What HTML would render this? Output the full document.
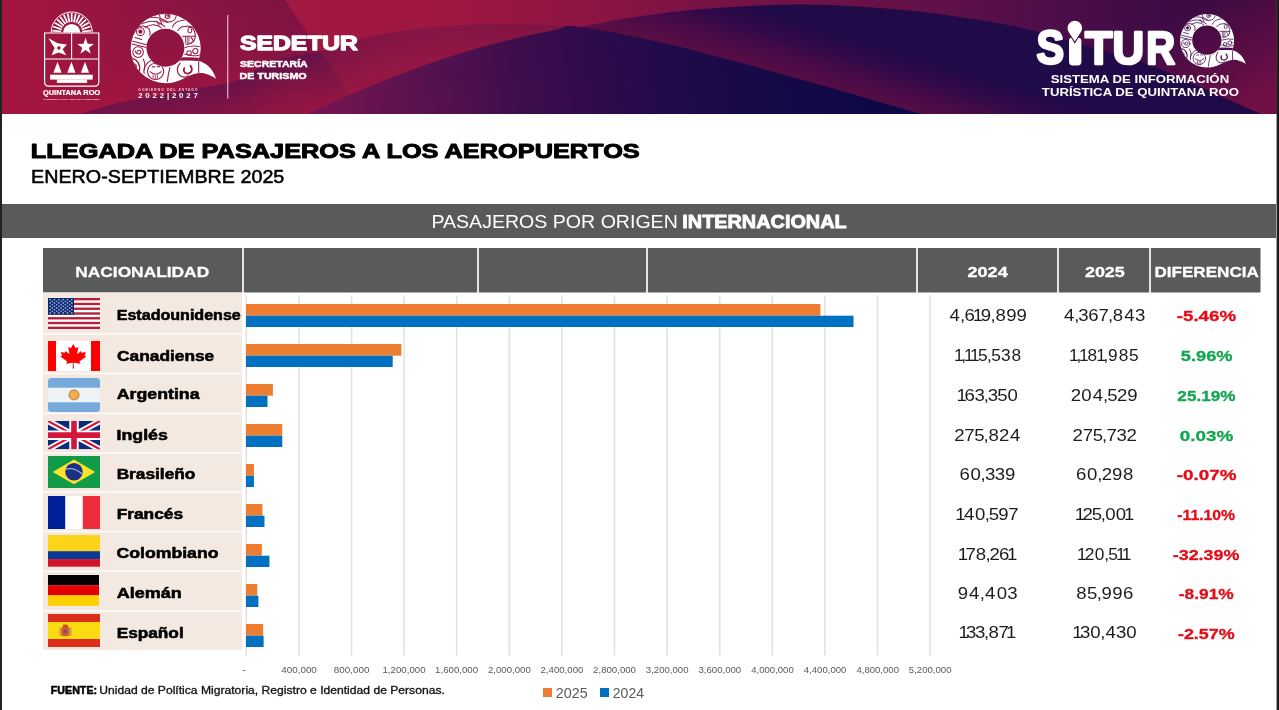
<!DOCTYPE html>
<html lang="es">
<head>
<meta charset="utf-8">
<title>Llegada de pasajeros a los aeropuertos</title>
<style>
html,body{margin:0;padding:0;background:#fff;}
body{width:1279px;height:710px;overflow:hidden;font-family:"Liberation Sans", sans-serif;}
svg{display:block;}
text{font-family:"Liberation Sans", sans-serif;white-space:pre;}
</style>
</head>
<body>
<svg width="1279" height="710" viewBox="0 0 1279 710">

<defs>
<linearGradient id="gBase" x1="0" y1="0" x2="400" y2="0" gradientUnits="userSpaceOnUse"><stop offset="0" stop-color="#a3163f"/><stop offset="1" stop-color="#a21741"/></linearGradient>
<linearGradient id="gRight" x1="285" y1="0" x2="1279" y2="0" gradientUnits="userSpaceOnUse"><stop offset="0" stop-color="#a21841"/><stop offset="0.166" stop-color="#9e1741"/><stop offset="0.3169" stop-color="#8c1443"/><stop offset="0.4175" stop-color="#7a1245"/><stop offset="0.5684" stop-color="#6a1147"/><stop offset="0.669" stop-color="#5f1048"/><stop offset="0.7696" stop-color="#4d0e49"/><stop offset="0.8702" stop-color="#400b46"/><stop offset="1" stop-color="#36083e"/></linearGradient>
<linearGradient id="gBandX" x1="20" y1="0" x2="300" y2="0" gradientUnits="userSpaceOnUse"><stop offset="0" stop-color="#4a0f4a" stop-opacity="0"/><stop offset="0.45" stop-color="#4a0f4a" stop-opacity="0.22"/><stop offset="1" stop-color="#4a0f4a" stop-opacity="0.42"/></linearGradient>
<linearGradient id="gBandY" x1="0" y1="0" x2="0" y2="114" gradientUnits="userSpaceOnUse"><stop offset="0" stop-color="#fff" stop-opacity="1"/><stop offset="0.5" stop-color="#fff" stop-opacity="0.75"/><stop offset="0.85" stop-color="#fff" stop-opacity="0.25"/><stop offset="1" stop-color="#fff" stop-opacity="0.2"/></linearGradient>
<mask id="mBand" maskUnits="userSpaceOnUse" x="0" y="0" width="1279" height="114"><rect x="0" y="0" width="1279" height="114" fill="url(#gBandY)"/></mask>
<linearGradient id="gCorner" x1="1170" y1="20" x2="1235" y2="118" gradientUnits="userSpaceOnUse"><stop offset="0" stop-color="#8e144a" stop-opacity="0"/><stop offset="1" stop-color="#8e144a" stop-opacity="0.66"/></linearGradient>
<linearGradient id="gOver" x1="330" y1="135" x2="880" y2="40" gradientUnits="userSpaceOnUse"><stop offset="0" stop-color="#741550"/><stop offset="0.2" stop-color="#55114f"/><stop offset="0.4" stop-color="#380c4c"/><stop offset="0.6" stop-color="#230a4a"/><stop offset="0.8" stop-color="#150946"/><stop offset="1" stop-color="#0c0945"/></linearGradient>
<linearGradient id="gArch2" x1="672" y1="43" x2="691" y2="-20" gradientUnits="userSpaceOnUse"><stop offset="0" stop-color="#580d45"/><stop offset="0.3" stop-color="#480b47"/><stop offset="0.6" stop-color="#300949"/><stop offset="0.85" stop-color="#220a48"/><stop offset="1" stop-color="#200a48"/></linearGradient>
<linearGradient id="gArch1" x1="80" y1="0" x2="580" y2="0" gradientUnits="userSpaceOnUse"><stop offset="0" stop-color="#3a0f50" stop-opacity="1"/><stop offset="0.36" stop-color="#3a0f50" stop-opacity="1"/><stop offset="0.5" stop-color="#3a0f50" stop-opacity="0.75"/><stop offset="0.74" stop-color="#3a0f50" stop-opacity="0.5"/><stop offset="1" stop-color="#3a0f50" stop-opacity="0.45"/></linearGradient>
<clipPath id="banner"><rect x="2" y="0" width="1274.6" height="114"/></clipPath>
</defs>
<rect x="0" y="0" width="1279" height="710" fill="#ffffff"/>
<g clip-path="url(#banner)">
<rect x="2" y="0" width="1275" height="114" fill="url(#gBase)"/>
<path d="M0,0 H285 L363,114 H0 Z" fill="url(#gBandX)" mask="url(#mBand)"/>
<path d="M285,0 H1279 V114 H363 Z" fill="url(#gRight)"/>
<path d="M1100,0 H1279 V114 H1100 Z" fill="url(#gCorner)"/>
<clipPath id="cA1"><path d="M0,0 H580 V114 H0 Z"/></clipPath>
<g clip-path="url(#cA1)">
<path fill-rule="evenodd" fill="url(#gArch1)" fill-opacity="0.46" d="M20.0,132.0 C30.0,129.0 64.0,118.8 80.0,114.0 C96.0,109.2 100.2,107.1 116.0,103.5 C131.8,99.9 155.3,96.2 175.0,92.5 C194.7,88.8 220.5,85.2 234.0,81.5 C247.5,77.8 249.2,73.5 256.0,70.0 C262.8,66.5 267.7,63.0 275.0,60.5 C282.3,58.0 290.8,56.9 300.0,55.0 C309.2,53.1 318.5,52.2 330.0,49.2 C341.5,46.2 354.0,40.5 369.0,37.0 C384.0,33.5 401.5,30.6 420.0,28.5 C438.5,26.4 461.7,25.2 480.0,24.5 C498.3,23.8 513.3,24.1 530.0,24.5 C546.7,24.9 571.7,26.6 580.0,27.0 L580.0,300 L20.0,300 Z M21.4,139.0 C31.4,136.0 65.4,125.8 81.4,121.0 C97.4,116.2 101.6,114.1 117.4,110.5 C133.2,106.9 156.7,103.2 176.4,99.5 C196.1,95.8 221.9,92.2 235.4,88.5 C248.9,84.8 250.6,80.5 257.4,77.0 C264.2,73.5 269.1,70.0 276.4,67.5 C283.7,65.0 292.2,63.9 301.4,62.0 C310.6,60.1 319.9,59.2 331.4,56.2 C342.9,53.2 355.4,47.5 370.4,44.0 C385.4,40.5 402.9,37.6 421.4,35.5 C439.9,33.4 463.1,32.2 481.4,31.5 C499.7,30.8 514.7,31.1 531.4,31.5 C548.1,31.9 573.1,33.6 581.4,34.0 L581.4,300 L21.4,300 Z"/>
<path fill-rule="evenodd" fill="url(#gArch1)" fill-opacity="0.41" d="M21.4,139.0 C31.4,136.0 65.4,125.8 81.4,121.0 C97.4,116.2 101.6,114.1 117.4,110.5 C133.2,106.9 156.7,103.2 176.4,99.5 C196.1,95.8 221.9,92.2 235.4,88.5 C248.9,84.8 250.6,80.5 257.4,77.0 C264.2,73.5 269.1,70.0 276.4,67.5 C283.7,65.0 292.2,63.9 301.4,62.0 C310.6,60.1 319.9,59.2 331.4,56.2 C342.9,53.2 355.4,47.5 370.4,44.0 C385.4,40.5 402.9,37.6 421.4,35.5 C439.9,33.4 463.1,32.2 481.4,31.5 C499.7,30.8 514.7,31.1 531.4,31.5 C548.1,31.9 573.1,33.6 581.4,34.0 L581.4,300 L21.4,300 Z M22.8,146.0 C32.8,143.0 66.8,132.8 82.8,128.0 C98.8,123.2 103.0,121.1 118.8,117.5 C134.6,113.9 158.1,110.2 177.8,106.5 C197.5,102.8 223.3,99.2 236.8,95.5 C250.3,91.8 252.0,87.5 258.8,84.0 C265.6,80.5 270.5,77.0 277.8,74.5 C285.1,72.0 293.6,70.9 302.8,69.0 C312.0,67.1 321.3,66.2 332.8,63.2 C344.3,60.2 356.8,54.5 371.8,51.0 C386.8,47.5 404.3,44.6 422.8,42.5 C441.3,40.4 464.5,39.2 482.8,38.5 C501.1,37.8 516.1,38.1 532.8,38.5 C549.5,38.9 574.5,40.6 582.8,41.0 L582.8,300 L22.8,300 Z"/>
<path fill-rule="evenodd" fill="url(#gArch1)" fill-opacity="0.35" d="M22.8,146.0 C32.8,143.0 66.8,132.8 82.8,128.0 C98.8,123.2 103.0,121.1 118.8,117.5 C134.6,113.9 158.1,110.2 177.8,106.5 C197.5,102.8 223.3,99.2 236.8,95.5 C250.3,91.8 252.0,87.5 258.8,84.0 C265.6,80.5 270.5,77.0 277.8,74.5 C285.1,72.0 293.6,70.9 302.8,69.0 C312.0,67.1 321.3,66.2 332.8,63.2 C344.3,60.2 356.8,54.5 371.8,51.0 C386.8,47.5 404.3,44.6 422.8,42.5 C441.3,40.4 464.5,39.2 482.8,38.5 C501.1,37.8 516.1,38.1 532.8,38.5 C549.5,38.9 574.5,40.6 582.8,41.0 L582.8,300 L22.8,300 Z M24.2,153.0 C34.2,150.0 68.2,139.8 84.2,135.0 C100.2,130.2 104.4,128.1 120.2,124.5 C136.0,120.9 159.5,117.2 179.2,113.5 C198.9,109.8 224.7,106.2 238.2,102.5 C251.7,98.8 253.4,94.5 260.2,91.0 C267.0,87.5 271.9,84.0 279.2,81.5 C286.5,79.0 295.0,77.9 304.2,76.0 C313.4,74.1 322.7,73.2 334.2,70.2 C345.7,67.2 358.2,61.5 373.2,58.0 C388.2,54.5 405.7,51.6 424.2,49.5 C442.7,47.4 465.9,46.2 484.2,45.5 C502.5,44.8 517.5,45.1 534.2,45.5 C550.9,45.9 575.9,47.6 584.2,48.0 L584.2,300 L24.2,300 Z"/>
<path fill-rule="evenodd" fill="url(#gArch1)" fill-opacity="0.29" d="M24.2,153.0 C34.2,150.0 68.2,139.8 84.2,135.0 C100.2,130.2 104.4,128.1 120.2,124.5 C136.0,120.9 159.5,117.2 179.2,113.5 C198.9,109.8 224.7,106.2 238.2,102.5 C251.7,98.8 253.4,94.5 260.2,91.0 C267.0,87.5 271.9,84.0 279.2,81.5 C286.5,79.0 295.0,77.9 304.2,76.0 C313.4,74.1 322.7,73.2 334.2,70.2 C345.7,67.2 358.2,61.5 373.2,58.0 C388.2,54.5 405.7,51.6 424.2,49.5 C442.7,47.4 465.9,46.2 484.2,45.5 C502.5,44.8 517.5,45.1 534.2,45.5 C550.9,45.9 575.9,47.6 584.2,48.0 L584.2,300 L24.2,300 Z M25.6,160.0 C35.6,157.0 69.6,146.8 85.6,142.0 C101.6,137.2 105.8,135.1 121.6,131.5 C137.4,127.9 160.9,124.2 180.6,120.5 C200.3,116.8 226.1,113.2 239.6,109.5 C253.1,105.8 254.8,101.5 261.6,98.0 C268.4,94.5 273.3,91.0 280.6,88.5 C287.9,86.0 296.4,84.9 305.6,83.0 C314.8,81.1 324.1,80.2 335.6,77.2 C347.1,74.2 359.6,68.5 374.6,65.0 C389.6,61.5 407.1,58.6 425.6,56.5 C444.1,54.4 467.3,53.2 485.6,52.5 C503.9,51.8 518.9,52.1 535.6,52.5 C552.3,52.9 577.3,54.6 585.6,55.0 L585.6,300 L25.6,300 Z"/>
<path fill-rule="evenodd" fill="url(#gArch1)" fill-opacity="0.23" d="M25.6,160.0 C35.6,157.0 69.6,146.8 85.6,142.0 C101.6,137.2 105.8,135.1 121.6,131.5 C137.4,127.9 160.9,124.2 180.6,120.5 C200.3,116.8 226.1,113.2 239.6,109.5 C253.1,105.8 254.8,101.5 261.6,98.0 C268.4,94.5 273.3,91.0 280.6,88.5 C287.9,86.0 296.4,84.9 305.6,83.0 C314.8,81.1 324.1,80.2 335.6,77.2 C347.1,74.2 359.6,68.5 374.6,65.0 C389.6,61.5 407.1,58.6 425.6,56.5 C444.1,54.4 467.3,53.2 485.6,52.5 C503.9,51.8 518.9,52.1 535.6,52.5 C552.3,52.9 577.3,54.6 585.6,55.0 L585.6,300 L25.6,300 Z M27.2,168.0 C37.2,165.0 71.2,154.8 87.2,150.0 C103.2,145.2 107.4,143.1 123.2,139.5 C139.0,135.9 162.5,132.2 182.2,128.5 C201.9,124.8 227.7,121.2 241.2,117.5 C254.7,113.8 256.4,109.5 263.2,106.0 C270.0,102.5 274.9,99.0 282.2,96.5 C289.5,94.0 298.0,92.9 307.2,91.0 C316.4,89.1 325.7,88.2 337.2,85.2 C348.7,82.2 361.2,76.5 376.2,73.0 C391.2,69.5 408.7,66.6 427.2,64.5 C445.7,62.4 468.9,61.2 487.2,60.5 C505.5,59.8 520.5,60.1 537.2,60.5 C553.9,60.9 578.9,62.6 587.2,63.0 L587.2,300 L27.2,300 Z"/>
<path fill-rule="evenodd" fill="url(#gArch1)" fill-opacity="0.17" d="M27.2,168.0 C37.2,165.0 71.2,154.8 87.2,150.0 C103.2,145.2 107.4,143.1 123.2,139.5 C139.0,135.9 162.5,132.2 182.2,128.5 C201.9,124.8 227.7,121.2 241.2,117.5 C254.7,113.8 256.4,109.5 263.2,106.0 C270.0,102.5 274.9,99.0 282.2,96.5 C289.5,94.0 298.0,92.9 307.2,91.0 C316.4,89.1 325.7,88.2 337.2,85.2 C348.7,82.2 361.2,76.5 376.2,73.0 C391.2,69.5 408.7,66.6 427.2,64.5 C445.7,62.4 468.9,61.2 487.2,60.5 C505.5,59.8 520.5,60.1 537.2,60.5 C553.9,60.9 578.9,62.6 587.2,63.0 L587.2,300 L27.2,300 Z M29.0,177.0 C39.0,174.0 73.0,163.8 89.0,159.0 C105.0,154.2 109.2,152.1 125.0,148.5 C140.8,144.9 164.3,141.2 184.0,137.5 C203.7,133.8 229.5,130.2 243.0,126.5 C256.5,122.8 258.2,118.5 265.0,115.0 C271.8,111.5 276.7,108.0 284.0,105.5 C291.3,103.0 299.8,101.9 309.0,100.0 C318.2,98.1 327.5,97.2 339.0,94.2 C350.5,91.2 363.0,85.5 378.0,82.0 C393.0,78.5 410.5,75.6 429.0,73.5 C447.5,71.4 470.7,70.2 489.0,69.5 C507.3,68.8 522.3,69.1 539.0,69.5 C555.7,69.9 580.7,71.6 589.0,72.0 L589.0,300 L29.0,300 Z"/>
<path fill-rule="evenodd" fill="url(#gArch1)" fill-opacity="0.11" d="M29.0,177.0 C39.0,174.0 73.0,163.8 89.0,159.0 C105.0,154.2 109.2,152.1 125.0,148.5 C140.8,144.9 164.3,141.2 184.0,137.5 C203.7,133.8 229.5,130.2 243.0,126.5 C256.5,122.8 258.2,118.5 265.0,115.0 C271.8,111.5 276.7,108.0 284.0,105.5 C291.3,103.0 299.8,101.9 309.0,100.0 C318.2,98.1 327.5,97.2 339.0,94.2 C350.5,91.2 363.0,85.5 378.0,82.0 C393.0,78.5 410.5,75.6 429.0,73.5 C447.5,71.4 470.7,70.2 489.0,69.5 C507.3,68.8 522.3,69.1 539.0,69.5 C555.7,69.9 580.7,71.6 589.0,72.0 L589.0,300 L29.0,300 Z M31.0,187.0 C41.0,184.0 75.0,173.8 91.0,169.0 C107.0,164.2 111.2,162.1 127.0,158.5 C142.8,154.9 166.3,151.2 186.0,147.5 C205.7,143.8 231.5,140.2 245.0,136.5 C258.5,132.8 260.2,128.5 267.0,125.0 C273.8,121.5 278.7,118.0 286.0,115.5 C293.3,113.0 301.8,111.9 311.0,110.0 C320.2,108.1 329.5,107.2 341.0,104.2 C352.5,101.2 365.0,95.5 380.0,92.0 C395.0,88.5 412.5,85.6 431.0,83.5 C449.5,81.4 472.7,80.2 491.0,79.5 C509.3,78.8 524.3,79.1 541.0,79.5 C557.7,79.9 582.7,81.6 591.0,82.0 L591.0,300 L31.0,300 Z"/>
<path fill-rule="evenodd" fill="url(#gArch1)" fill-opacity="0.05" d="M31.0,187.0 C41.0,184.0 75.0,173.8 91.0,169.0 C107.0,164.2 111.2,162.1 127.0,158.5 C142.8,154.9 166.3,151.2 186.0,147.5 C205.7,143.8 231.5,140.2 245.0,136.5 C258.5,132.8 260.2,128.5 267.0,125.0 C273.8,121.5 278.7,118.0 286.0,115.5 C293.3,113.0 301.8,111.9 311.0,110.0 C320.2,108.1 329.5,107.2 341.0,104.2 C352.5,101.2 365.0,95.5 380.0,92.0 C395.0,88.5 412.5,85.6 431.0,83.5 C449.5,81.4 472.7,80.2 491.0,79.5 C509.3,78.8 524.3,79.1 541.0,79.5 C557.7,79.9 582.7,81.6 591.0,82.0 L591.0,300 L31.0,300 Z M33.2,198.0 C43.2,195.0 77.2,184.8 93.2,180.0 C109.2,175.2 113.4,173.1 129.2,169.5 C145.0,165.9 168.5,162.2 188.2,158.5 C207.9,154.8 233.7,151.2 247.2,147.5 C260.7,143.8 262.4,139.5 269.2,136.0 C276.0,132.5 280.9,129.0 288.2,126.5 C295.5,124.0 304.0,122.9 313.2,121.0 C322.4,119.1 331.7,118.2 343.2,115.2 C354.7,112.2 367.2,106.5 382.2,103.0 C397.2,99.5 414.7,96.6 433.2,94.5 C451.7,92.4 474.9,91.2 493.2,90.5 C511.5,89.8 526.5,90.1 543.2,90.5 C559.9,90.9 584.9,92.6 593.2,93.0 L593.2,300 L33.2,300 Z"/>
</g>
<path d="M580.0,27.0 C589.2,25.3 613.3,20.1 635.0,17.0 C656.7,13.9 681.8,10.6 710.0,8.5 C738.2,6.4 772.7,4.3 804.0,4.5 C835.3,4.7 869.8,7.1 898.0,9.5 C926.2,11.9 951.0,15.6 973.0,19.0 C995.0,22.4 1011.7,25.4 1030.0,29.7 C1048.3,34.0 1069.7,41.0 1083.0,44.9 C1096.3,48.8 1099.7,50.0 1110.0,53.0 C1120.3,56.0 1136.7,60.3 1145.0,63.0 C1153.3,65.7 1151.2,65.2 1160.0,69.0 C1168.8,72.8 1181.7,78.7 1198.0,86.0 C1214.3,93.3 1247.5,108.1 1258.0,112.8 C1268.5,117.5 1260.5,113.8 1261.0,114.0 L580,114 Z" fill="url(#gArch2)"/>
<path d="M307.0,114.0 C315.0,110.4 338.7,99.4 355.0,92.5 C371.3,85.6 388.3,78.8 405.0,72.5 C421.7,66.2 438.3,60.2 455.0,55.0 C471.7,49.8 488.3,45.2 505.0,41.0 C521.7,36.8 542.5,32.3 555.0,30.0 C567.5,27.7 560.5,24.5 580.0,27.0 C599.5,29.5 637.8,37.0 672.0,45.0 C706.2,53.0 744.3,63.8 785.0,75.0 C825.7,86.2 893.3,106.0 916.0,112.5 C938.7,119.0 920.2,113.8 921.0,114.0 Z" fill="url(#gOver)"/>
</g>
<rect x="0" y="0" width="2" height="710" fill="#222222"/>
<rect x="1276.6" y="0" width="2.4" height="710" fill="#1c1c1c"/>
<rect x="2" y="204" width="1274" height="34" fill="#595b5a"/>
<text x="30.86" y="158.40" font-size="20.64" font-weight="bold" fill="#000" stroke="#000" stroke-width="1.0" stroke-linejoin="round" textLength="608.87" lengthAdjust="spacingAndGlyphs" >LLEGADA DE PASAJEROS A LOS AEROPUERTOS</text>
<text x="31.00" y="182.92" font-size="18.97" font-weight="normal" fill="#000" stroke="#000" stroke-width="0.55" stroke-linejoin="round" textLength="253.34" lengthAdjust="spacingAndGlyphs" >ENERO-SEPTIEMBRE 2025</text>
<text x="431.44" y="228.30" font-size="18.60" font-weight="normal" fill="#fff" textLength="246.37" lengthAdjust="spacingAndGlyphs" >PASAJEROS POR ORIGEN</text>
<text x="682.31" y="227.90" font-size="17.59" font-weight="bold" fill="#fff" stroke="#fff" stroke-width="0.8" stroke-linejoin="round" textLength="164.40" lengthAdjust="spacingAndGlyphs" >INTERNACIONAL</text>
<rect x="43" y="248" width="199" height="44.5" fill="#595b5a"/>
<rect x="244" y="248" width="233" height="44.5" fill="#595b5a"/>
<rect x="479" y="248" width="167" height="44.5" fill="#595b5a"/>
<rect x="648" y="248" width="268" height="44.5" fill="#595b5a"/>
<rect x="918" y="248" width="139" height="44.5" fill="#595b5a"/>
<rect x="1059" y="248" width="90" height="44.5" fill="#595b5a"/>
<rect x="1151" y="248" width="109.5" height="44.5" fill="#595b5a"/>
<rect x="242" y="248" width="2" height="44.5" fill="#e4e4e4"/>
<rect x="477" y="248" width="2" height="44.5" fill="#e4e4e4"/>
<rect x="646" y="248" width="2" height="44.5" fill="#e4e4e4"/>
<rect x="916" y="248" width="2" height="44.5" fill="#e4e4e4"/>
<rect x="1057" y="248" width="2" height="44.5" fill="#e4e4e4"/>
<rect x="1149" y="248" width="2" height="44.5" fill="#e4e4e4"/>
<text x="75.22" y="276.55" font-size="15.41" font-weight="bold" fill="#fff" stroke="#fff" stroke-width="0.3" stroke-linejoin="round" textLength="133.97" lengthAdjust="spacingAndGlyphs" >NACIONALIDAD</text>
<text x="967.51" y="276.95" font-size="15.55" font-weight="bold" fill="#fff" stroke="#fff" stroke-width="0.3" stroke-linejoin="round" textLength="40.26" lengthAdjust="spacingAndGlyphs" >2024</text>
<text x="1084.91" y="276.95" font-size="15.55" font-weight="bold" fill="#fff" stroke="#fff" stroke-width="0.3" stroke-linejoin="round" textLength="39.91" lengthAdjust="spacingAndGlyphs" >2025</text>
<text x="1154.44" y="276.95" font-size="15.55" font-weight="bold" fill="#fff" stroke="#fff" stroke-width="0.3" stroke-linejoin="round" textLength="104.39" lengthAdjust="spacingAndGlyphs" >DIFERENCIA</text>
<rect x="43" y="292.5" width="199" height="357.5" fill="#f3e9e1"/>
<rect x="43" y="333.3" width="199" height="1.4" fill="#fefcfa"/>
<rect x="43" y="372.8" width="199" height="1.4" fill="#fefcfa"/>
<rect x="43" y="412.8" width="199" height="1.4" fill="#fefcfa"/>
<rect x="43" y="452.3" width="199" height="1.4" fill="#fefcfa"/>
<rect x="43" y="491.3" width="199" height="1.4" fill="#fefcfa"/>
<rect x="43" y="530.8" width="199" height="1.4" fill="#fefcfa"/>
<rect x="43" y="570.5999999999999" width="199" height="1.4" fill="#fefcfa"/>
<rect x="43" y="610.3" width="199" height="1.4" fill="#fefcfa"/>
<rect x="245.50" y="295.5" width="1.6" height="360" fill="#e1e1e3"/>
<rect x="298.10" y="295.5" width="1.6" height="360" fill="#e1e1e3"/>
<rect x="350.70" y="295.5" width="1.6" height="360" fill="#e1e1e3"/>
<rect x="403.30" y="295.5" width="1.6" height="360" fill="#e1e1e3"/>
<rect x="455.90" y="295.5" width="1.6" height="360" fill="#e1e1e3"/>
<rect x="508.50" y="295.5" width="1.6" height="360" fill="#e1e1e3"/>
<rect x="561.10" y="295.5" width="1.6" height="360" fill="#e1e1e3"/>
<rect x="613.70" y="295.5" width="1.6" height="360" fill="#e1e1e3"/>
<rect x="666.30" y="295.5" width="1.6" height="360" fill="#e1e1e3"/>
<rect x="718.90" y="295.5" width="1.6" height="360" fill="#e1e1e3"/>
<rect x="771.50" y="295.5" width="1.6" height="360" fill="#e1e1e3"/>
<rect x="824.10" y="295.5" width="1.6" height="360" fill="#e1e1e3"/>
<rect x="876.70" y="295.5" width="1.6" height="360" fill="#e1e1e3"/>
<rect x="929.30" y="295.5" width="1.6" height="360" fill="#e1e1e3"/>
<rect x="246.0" y="304" width="574.37" height="11.7" fill="#ed7d31"/>
<rect x="246.0" y="315.7" width="607.52" height="11.3" fill="#0070c0"/>
<rect x="246.0" y="344" width="155.43" height="11.7" fill="#ed7d31"/>
<rect x="246.0" y="355.7" width="146.69" height="11.3" fill="#0070c0"/>
<rect x="246.0" y="384" width="26.90" height="11.7" fill="#ed7d31"/>
<rect x="246.0" y="395.7" width="21.48" height="11.3" fill="#0070c0"/>
<rect x="246.0" y="424" width="36.26" height="11.7" fill="#ed7d31"/>
<rect x="246.0" y="435.7" width="36.27" height="11.3" fill="#0070c0"/>
<rect x="246.0" y="464" width="7.93" height="11.7" fill="#ed7d31"/>
<rect x="246.0" y="475.7" width="7.93" height="11.3" fill="#0070c0"/>
<rect x="246.0" y="504" width="16.44" height="11.7" fill="#ed7d31"/>
<rect x="246.0" y="515.7" width="18.49" height="11.3" fill="#0070c0"/>
<rect x="246.0" y="544" width="15.85" height="11.7" fill="#ed7d31"/>
<rect x="246.0" y="555.7" width="23.44" height="11.3" fill="#0070c0"/>
<rect x="246.0" y="584" width="11.31" height="11.7" fill="#ed7d31"/>
<rect x="246.0" y="595.7" width="12.41" height="11.3" fill="#0070c0"/>
<rect x="246.0" y="624" width="17.15" height="11.7" fill="#ed7d31"/>
<rect x="246.0" y="635.7" width="17.60" height="11.3" fill="#0070c0"/>
<text x="281.30" y="672.90" font-size="9.30" font-weight="normal" fill="#595959" textLength="35.55" lengthAdjust="spacingAndGlyphs" >400,000</text>
<text x="333.70" y="672.90" font-size="9.30" font-weight="normal" fill="#595959" textLength="35.75" lengthAdjust="spacingAndGlyphs" >800,000</text>
<text x="382.47" y="672.90" font-size="9.30" font-weight="normal" fill="#595959" textLength="43.08" lengthAdjust="spacingAndGlyphs" >1,200,000</text>
<text x="435.07" y="672.90" font-size="9.30" font-weight="normal" fill="#595959" textLength="43.08" lengthAdjust="spacingAndGlyphs" >1,600,000</text>
<text x="487.92" y="672.90" font-size="9.30" font-weight="normal" fill="#595959" textLength="42.83" lengthAdjust="spacingAndGlyphs" >2,000,000</text>
<text x="540.52" y="672.90" font-size="9.30" font-weight="normal" fill="#595959" textLength="42.83" lengthAdjust="spacingAndGlyphs" >2,400,000</text>
<text x="593.12" y="672.90" font-size="9.30" font-weight="normal" fill="#595959" textLength="42.83" lengthAdjust="spacingAndGlyphs" >2,800,000</text>
<text x="645.86" y="672.90" font-size="9.30" font-weight="normal" fill="#595959" textLength="42.68" lengthAdjust="spacingAndGlyphs" >3,200,000</text>
<text x="698.46" y="672.90" font-size="9.30" font-weight="normal" fill="#595959" textLength="42.68" lengthAdjust="spacingAndGlyphs" >3,600,000</text>
<text x="751.21" y="672.90" font-size="9.30" font-weight="normal" fill="#595959" textLength="42.54" lengthAdjust="spacingAndGlyphs" >4,000,000</text>
<text x="803.81" y="672.90" font-size="9.30" font-weight="normal" fill="#595959" textLength="42.54" lengthAdjust="spacingAndGlyphs" >4,400,000</text>
<text x="856.41" y="672.90" font-size="9.30" font-weight="normal" fill="#595959" textLength="42.54" lengthAdjust="spacingAndGlyphs" >4,800,000</text>
<text x="908.82" y="672.90" font-size="9.30" font-weight="normal" fill="#595959" textLength="42.73" lengthAdjust="spacingAndGlyphs" >5,200,000</text>
<text x="242.22" y="672.90" font-size="9.30" font-weight="normal" fill="#595959" textLength="4.00" lengthAdjust="spacingAndGlyphs" >-</text>
<rect x="543" y="688" width="9" height="9" fill="#ed7d31"/>
<text x="555.89" y="698.00" font-size="13.80" font-weight="normal" fill="#595959" textLength="31.80" lengthAdjust="spacingAndGlyphs" >2025</text>
<rect x="600" y="688" width="9" height="9" fill="#0070c0"/>
<text x="612.80" y="698.00" font-size="13.80" font-weight="normal" fill="#595959" textLength="31.17" lengthAdjust="spacingAndGlyphs" >2024</text>
<text x="50.86" y="693.80" font-size="10.60" font-weight="bold" fill="#000" stroke="#000" stroke-width="0.5" stroke-linejoin="round" textLength="46.18" lengthAdjust="spacingAndGlyphs" >FUENTE:</text>
<text x="99.24" y="693.80" font-size="10.60" font-weight="normal" fill="#111" stroke="#111" stroke-width="0.3" stroke-linejoin="round" textLength="345.57" lengthAdjust="spacingAndGlyphs" >Unidad de Política Migratoria, Registro e Identidad de Personas.</text>
<text x="116.73" y="319.78" font-size="14.61" font-weight="bold" fill="#000" stroke="#000" stroke-width="0.55" stroke-linejoin="round" textLength="124.09" lengthAdjust="spacingAndGlyphs" >Estadounidense</text>
<text x="117.08" y="360.58" font-size="14.61" font-weight="bold" fill="#000" stroke="#000" stroke-width="0.55" stroke-linejoin="round" textLength="97.18" lengthAdjust="spacingAndGlyphs" >Canadiense</text>
<text x="116.82" y="399.48" font-size="14.61" font-weight="bold" fill="#000" stroke="#000" stroke-width="0.55" stroke-linejoin="round" textLength="82.75" lengthAdjust="spacingAndGlyphs" >Argentina</text>
<text x="116.62" y="439.98" font-size="14.61" font-weight="bold" fill="#000" stroke="#000" stroke-width="0.55" stroke-linejoin="round" textLength="51.24" lengthAdjust="spacingAndGlyphs" >Inglés</text>
<text x="116.65" y="478.78" font-size="14.61" font-weight="bold" fill="#000" stroke="#000" stroke-width="0.55" stroke-linejoin="round" textLength="78.69" lengthAdjust="spacingAndGlyphs" >Brasileño</text>
<text x="116.65" y="518.77" font-size="14.61" font-weight="bold" fill="#000" stroke="#000" stroke-width="0.55" stroke-linejoin="round" textLength="66.50" lengthAdjust="spacingAndGlyphs" >Francés</text>
<text x="116.47" y="557.98" font-size="14.61" font-weight="bold" fill="#000" stroke="#000" stroke-width="0.55" stroke-linejoin="round" textLength="101.99" lengthAdjust="spacingAndGlyphs" >Colombiano</text>
<text x="116.82" y="597.98" font-size="14.61" font-weight="bold" fill="#000" stroke="#000" stroke-width="0.55" stroke-linejoin="round" textLength="65.00" lengthAdjust="spacingAndGlyphs" >Alemán</text>
<text x="116.65" y="637.58" font-size="14.61" font-weight="bold" fill="#000" stroke="#000" stroke-width="0.55" stroke-linejoin="round" textLength="67.04" lengthAdjust="spacingAndGlyphs" >Español</text>
<text transform="scale(1.17,1)" text-anchor="middle" x="816.07 822.68 828.71 835.74 842.78 848.81 855.24 864.43 873.24" y="320.80" font-size="15.9" fill="#1c1c1c">4,619,899</text>
<text transform="scale(1.17,1)" text-anchor="middle" x="913.72 920.32 926.11 934.64 943.28 949.17 955.59 965.35 974.48" y="320.80" font-size="15.9" fill="#1c1c1c">4,367,843</text>
<text x="1176.74" y="320.80" font-size="15.20" font-weight="bold" fill="#e30d18" stroke="#e30d18" stroke-width="0.3" stroke-linejoin="round" textLength="59.31" lengthAdjust="spacingAndGlyphs" >-5.46%</text>
<text transform="scale(1.09,1)" text-anchor="middle" x="879.61 884.18 888.76 894.42 901.63 907.77 913.90 922.74 932.33" y="361.00" font-size="15.9" fill="#1c1c1c">1,115,538</text>
<text transform="scale(1.09,1)" text-anchor="middle" x="985.25 989.78 994.32 1002.22 1010.12 1014.66 1021.06 1030.83 1040.27" y="361.00" font-size="15.9" fill="#1c1c1c">1,181,985</text>
<text x="1180.80" y="361.00" font-size="15.20" font-weight="bold" fill="#12a650" stroke="#12a650" stroke-width="0.3" stroke-linejoin="round" textLength="51.69" lengthAdjust="spacingAndGlyphs" >5.96%</text>
<text transform="scale(1.17,1)" text-anchor="middle" x="821.90 828.84 837.27 842.98 848.69 856.82 865.51" y="401.00" font-size="15.9" fill="#1c1c1c">163,350</text>
<text transform="scale(1.17,1)" text-anchor="middle" x="919.61 928.62 938.38 945.04 950.79 959.16 967.85" y="401.00" font-size="15.9" fill="#1c1c1c">204,529</text>
<text x="1177.39" y="401.00" font-size="15.20" font-weight="bold" fill="#12a650" stroke="#12a650" stroke-width="0.3" stroke-linejoin="round" textLength="58.13" lengthAdjust="spacingAndGlyphs" >25.19%</text>
<text transform="scale(1.17,1)" text-anchor="middle" x="820.08 828.62 837.02 842.77 849.23 858.31 867.58" y="440.70" font-size="15.9" fill="#1c1c1c">275,824</text>
<text transform="scale(1.17,1)" text-anchor="middle" x="921.19 929.84 938.35 944.18 950.18 958.75 967.30" y="440.70" font-size="15.9" fill="#1c1c1c">275,732</text>
<text x="1179.89" y="440.70" font-size="15.20" font-weight="bold" fill="#12a650" stroke="#12a650" stroke-width="0.3" stroke-linejoin="round" textLength="53.41" lengthAdjust="spacingAndGlyphs" >0.03%</text>
<text transform="scale(1.17,1)" text-anchor="middle" x="824.57 833.85 840.33 846.22 854.69 863.41" y="479.80" font-size="15.9" fill="#1c1c1c">60,339</text>
<text transform="scale(1.17,1)" text-anchor="middle" x="924.14 933.48 939.99 946.00 954.85 964.27" y="479.80" font-size="15.9" fill="#1c1c1c">60,298</text>
<text x="1176.69" y="479.80" font-size="15.20" font-weight="bold" fill="#e30d18" stroke="#e30d18" stroke-width="0.3" stroke-linejoin="round" textLength="59.82" lengthAdjust="spacingAndGlyphs" >-0.07%</text>
<text transform="scale(1.17,1)" text-anchor="middle" x="820.92 828.32 837.75 843.92 849.48 857.73 866.14" y="520.10" font-size="15.9" fill="#1c1c1c">140,597</text>
<text transform="scale(1.17,1)" text-anchor="middle" x="923.06 929.60 937.53 942.98 949.03 958.02 965.03" y="520.10" font-size="15.9" fill="#1c1c1c">125,001</text>
<text x="1177.30" y="520.10" font-size="15.20" font-weight="bold" fill="#e30d18" stroke="#e30d18" stroke-width="0.3" stroke-linejoin="round" textLength="57.83" lengthAdjust="spacingAndGlyphs" >-11.10%</text>
<text transform="scale(1.17,1)" text-anchor="middle" x="823.06 829.65 838.31 844.46 850.06 858.31 865.03" y="559.70" font-size="15.9" fill="#1c1c1c">178,261</text>
<text transform="scale(1.09,1)" text-anchor="middle" x="992.49 999.58 1008.82 1015.37 1021.27 1028.21 1033.65" y="559.70" font-size="15.9" fill="#1c1c1c">120,511</text>
<text x="1172.72" y="559.70" font-size="15.20" font-weight="bold" fill="#e30d18" stroke="#e30d18" stroke-width="0.3" stroke-linejoin="round" textLength="66.76" lengthAdjust="spacingAndGlyphs" >-32.39%</text>
<text transform="scale(1.17,1)" text-anchor="middle" x="823.11 832.73 839.52 846.31 856.27 865.38" y="599.30" font-size="15.9" fill="#1c1c1c">94,403</text>
<text transform="scale(1.17,1)" text-anchor="middle" x="924.30 933.59 939.57 945.88 955.08 964.27" y="599.30" font-size="15.9" fill="#1c1c1c">85,996</text>
<text x="1178.84" y="599.30" font-size="15.20" font-weight="bold" fill="#e30d18" stroke="#e30d18" stroke-width="0.3" stroke-linejoin="round" textLength="54.93" lengthAdjust="spacingAndGlyphs" >-8.91%</text>
<text transform="scale(1.17,1)" text-anchor="middle" x="823.57 829.97 837.80 843.26 849.31 857.84 864.35" y="638.50" font-size="15.9" fill="#1c1c1c">133,871</text>
<text transform="scale(1.17,1)" text-anchor="middle" x="920.79 927.54 936.36 942.67 949.24 958.32 967.14" y="638.50" font-size="15.9" fill="#1c1c1c">130,430</text>
<text x="1177.97" y="638.50" font-size="15.20" font-weight="bold" fill="#e30d18" stroke="#e30d18" stroke-width="0.3" stroke-linejoin="round" textLength="56.66" lengthAdjust="spacingAndGlyphs" >-2.57%</text>
<g><rect x="48" y="298" width="52" height="31" fill="#ffffff"/>
<rect x="48" y="298.00" width="52" height="2.38" fill="#b5213a"/>
<rect x="48" y="302.77" width="52" height="2.38" fill="#b5213a"/>
<rect x="48" y="307.54" width="52" height="2.38" fill="#b5213a"/>
<rect x="48" y="312.31" width="52" height="2.38" fill="#b5213a"/>
<rect x="48" y="317.08" width="52" height="2.38" fill="#b5213a"/>
<rect x="48" y="321.85" width="52" height="2.38" fill="#b5213a"/>
<rect x="48" y="326.62" width="52" height="2.38" fill="#b5213a"/>
<rect x="48" y="298" width="26" height="16.69" fill="#0d2467"/>
<circle cx="50.17" cy="299.67" r="0.9" fill="#86a6e4"/>
<circle cx="54.50" cy="299.67" r="0.9" fill="#86a6e4"/>
<circle cx="58.83" cy="299.67" r="0.9" fill="#86a6e4"/>
<circle cx="63.17" cy="299.67" r="0.9" fill="#86a6e4"/>
<circle cx="67.50" cy="299.67" r="0.9" fill="#86a6e4"/>
<circle cx="71.83" cy="299.67" r="0.9" fill="#86a6e4"/>
<circle cx="52.33" cy="301.34" r="0.9" fill="#86a6e4"/>
<circle cx="56.67" cy="301.34" r="0.9" fill="#86a6e4"/>
<circle cx="61.00" cy="301.34" r="0.9" fill="#86a6e4"/>
<circle cx="65.33" cy="301.34" r="0.9" fill="#86a6e4"/>
<circle cx="69.67" cy="301.34" r="0.9" fill="#86a6e4"/>
<circle cx="50.17" cy="303.01" r="0.9" fill="#86a6e4"/>
<circle cx="54.50" cy="303.01" r="0.9" fill="#86a6e4"/>
<circle cx="58.83" cy="303.01" r="0.9" fill="#86a6e4"/>
<circle cx="63.17" cy="303.01" r="0.9" fill="#86a6e4"/>
<circle cx="67.50" cy="303.01" r="0.9" fill="#86a6e4"/>
<circle cx="71.83" cy="303.01" r="0.9" fill="#86a6e4"/>
<circle cx="52.33" cy="304.68" r="0.9" fill="#86a6e4"/>
<circle cx="56.67" cy="304.68" r="0.9" fill="#86a6e4"/>
<circle cx="61.00" cy="304.68" r="0.9" fill="#86a6e4"/>
<circle cx="65.33" cy="304.68" r="0.9" fill="#86a6e4"/>
<circle cx="69.67" cy="304.68" r="0.9" fill="#86a6e4"/>
<circle cx="50.17" cy="306.35" r="0.9" fill="#86a6e4"/>
<circle cx="54.50" cy="306.35" r="0.9" fill="#86a6e4"/>
<circle cx="58.83" cy="306.35" r="0.9" fill="#86a6e4"/>
<circle cx="63.17" cy="306.35" r="0.9" fill="#86a6e4"/>
<circle cx="67.50" cy="306.35" r="0.9" fill="#86a6e4"/>
<circle cx="71.83" cy="306.35" r="0.9" fill="#86a6e4"/>
<circle cx="52.33" cy="308.02" r="0.9" fill="#86a6e4"/>
<circle cx="56.67" cy="308.02" r="0.9" fill="#86a6e4"/>
<circle cx="61.00" cy="308.02" r="0.9" fill="#86a6e4"/>
<circle cx="65.33" cy="308.02" r="0.9" fill="#86a6e4"/>
<circle cx="69.67" cy="308.02" r="0.9" fill="#86a6e4"/>
<circle cx="50.17" cy="309.68" r="0.9" fill="#86a6e4"/>
<circle cx="54.50" cy="309.68" r="0.9" fill="#86a6e4"/>
<circle cx="58.83" cy="309.68" r="0.9" fill="#86a6e4"/>
<circle cx="63.17" cy="309.68" r="0.9" fill="#86a6e4"/>
<circle cx="67.50" cy="309.68" r="0.9" fill="#86a6e4"/>
<circle cx="71.83" cy="309.68" r="0.9" fill="#86a6e4"/>
<circle cx="52.33" cy="311.35" r="0.9" fill="#86a6e4"/>
<circle cx="56.67" cy="311.35" r="0.9" fill="#86a6e4"/>
<circle cx="61.00" cy="311.35" r="0.9" fill="#86a6e4"/>
<circle cx="65.33" cy="311.35" r="0.9" fill="#86a6e4"/>
<circle cx="69.67" cy="311.35" r="0.9" fill="#86a6e4"/>
<circle cx="50.17" cy="313.02" r="0.9" fill="#86a6e4"/>
<circle cx="54.50" cy="313.02" r="0.9" fill="#86a6e4"/>
<circle cx="58.83" cy="313.02" r="0.9" fill="#86a6e4"/>
<circle cx="63.17" cy="313.02" r="0.9" fill="#86a6e4"/>
<circle cx="67.50" cy="313.02" r="0.9" fill="#86a6e4"/>
<circle cx="71.83" cy="313.02" r="0.9" fill="#86a6e4"/>
</g>
<g><rect x="48" y="341" width="52" height="30" fill="#ffffff"/>
<rect x="48" y="341" width="8" height="30" fill="#ff0000"/>
<rect x="91" y="341" width="9" height="30" fill="#ff0000"/>
<path transform="translate(73.3,356.15) scale(0.00699,0.00613)" d="m-90 2030 45-863a95 95 0 0 0-111-98l-859 151 116-320a65 65 0 0 0-20-73l-941-762 212-99a65 65 0 0 0 34-79l-186-572 542 115a65 65 0 0 0 73-38l105-247 423 454a65 65 0 0 0 111-57l-204-1052 327 189a65 65 0 0 0 91-27l332-652 332 652a65 65 0 0 0 91 27l327-189-204 1052a65 65 0 0 0 111 57l423-454 105 247a65 65 0 0 0 73 38l542-115-186 572a65 65 0 0 0 34 79l212 99-941 762a65 65 0 0 0-20 73l116 320-859-151a95 95 0 0 0-111 98l45 863z" fill="#ff0000"/>
</g>
<g><clipPath id="cAr"><rect x="48" y="378" width="52" height="34" rx="3.5" ry="3.5"/></clipPath>
<g clip-path="url(#cAr)"><rect x="48" y="378" width="52" height="34" fill="#75aadb"/>
<rect x="48" y="387.7" width="52" height="14.6" fill="#eef2f7"/>
</g>
<circle cx="74" cy="394.9" r="5.6" fill="#c79a5a"/>
<circle cx="74" cy="394.9" r="3.8" fill="#f6b040"/>
</g>
<g><clipPath id="cUk"><rect x="48" y="421" width="52" height="28.3"/></clipPath>
<g clip-path="url(#cUk)"><rect x="48" y="421" width="52" height="28.3" fill="#0b2a77"/>
<path d="M48,421 L100,449.3 M100,421 L48,449.3" stroke="#ffffff" stroke-width="6"/>
<path d="M48,421 L100,449.3 M100,421 L48,449.3" stroke="#d3173b" stroke-width="2.2"/>
<path d="M74.0,421 V449.3 M48,435.15 H100" stroke="#ffffff" stroke-width="9.5"/>
<path d="M74.0,421 V449.3 M48,435.15 H100" stroke="#d3173b" stroke-width="5.6"/>
</g></g>
<g><rect x="48" y="456" width="52" height="32" fill="#119b48"/>
<path d="M52.7,471.9 L74,459.5 L95.2,471.9 L74,484.2 Z" fill="#fde12c"/>
<circle cx="74" cy="471.8" r="8.8" fill="#1b2f83"/>
<path d="M65.8,469.2 Q74,467 82.6,474.2" stroke="#9fb4d8" stroke-width="1.3" fill="none"/>
</g>
<g><rect x="48" y="496" width="52" height="33" fill="#ffffff"/>
<rect x="48" y="496" width="17.2" height="33" fill="#00209a"/>
<rect x="82.8" y="496" width="17.2" height="33" fill="#ee2d3c"/>
</g>
<g><rect x="48" y="535" width="52" height="16.2" fill="#fdd419"/>
<rect x="48" y="551.2" width="52" height="7.9" fill="#0a3a95"/>
<rect x="48" y="559.1" width="52" height="7.6" fill="#cf142b"/></g>
<g><rect x="48" y="575" width="51" height="10.2" fill="#000000"/>
<rect x="48" y="585.2" width="51" height="10.2" fill="#e30000"/>
<rect x="48" y="595.4" width="51" height="10.4" fill="#ffd000"/></g>
<g><rect x="48" y="614" width="52" height="33" fill="#dd2e1b"/>
<rect x="48" y="622" width="52" height="17" fill="#fbdc12"/>
<rect x="61.2" y="626.6" width="8.4" height="9.6" rx="2.5" fill="#c8602a"/>
<rect x="59" y="627.5" width="1.7" height="8.6" fill="#d9a24a"/>
<rect x="70" y="627.5" width="1.7" height="8.6" fill="#d9a24a"/>
<rect x="63" y="624.6" width="4.8" height="2.6" rx="1" fill="#cf4a22"/>
<circle cx="65.4" cy="631.3" r="1.7" fill="#7a4a8a"/>
</g>
<g fill="#ffffff" stroke="none">
<path d="M44.6,33 H98.8 V82 Q98.8,86.2 94.6,86.2 H48.8 Q44.6,86.2 44.6,82 Z" fill="none" stroke="#ffffff" stroke-width="1.2"/>
<path d="M71.6,33 V59 M44.6,59 H98.8" fill="none" stroke="#ffffff" stroke-width="1.1"/>
<path d="M63.1,32.6 A8.6,8.6 0 0 1 80.3,32.6 Z"/>
<path d="M51.1,32.6 A20.6,20.6 0 0 1 92.30000000000001,32.6" fill="none" stroke="#ffffff" stroke-width="1"/>
<path d="M61.16,31.49 L52.21,30.55" stroke="#ffffff" stroke-width="1.7" fill="none"/>
<path d="M61.62,29.32 L53.06,26.54" stroke="#ffffff" stroke-width="1.7" fill="none"/>
<path d="M62.52,27.30 L54.73,22.80" stroke="#ffffff" stroke-width="1.7" fill="none"/>
<path d="M63.82,25.51 L57.13,19.49" stroke="#ffffff" stroke-width="1.7" fill="none"/>
<path d="M65.47,24.02 L60.18,16.74" stroke="#ffffff" stroke-width="1.7" fill="none"/>
<path d="M67.39,22.92 L63.73,14.69" stroke="#ffffff" stroke-width="1.7" fill="none"/>
<path d="M69.50,22.23 L67.62,13.43" stroke="#ffffff" stroke-width="1.7" fill="none"/>
<path d="M71.70,22.00 L71.70,13.00" stroke="#ffffff" stroke-width="1.7" fill="none"/>
<path d="M73.90,22.23 L75.78,13.43" stroke="#ffffff" stroke-width="1.7" fill="none"/>
<path d="M76.01,22.92 L79.67,14.69" stroke="#ffffff" stroke-width="1.7" fill="none"/>
<path d="M77.93,24.02 L83.22,16.74" stroke="#ffffff" stroke-width="1.7" fill="none"/>
<path d="M79.58,25.51 L86.27,19.49" stroke="#ffffff" stroke-width="1.7" fill="none"/>
<path d="M80.88,27.30 L88.67,22.80" stroke="#ffffff" stroke-width="1.7" fill="none"/>
<path d="M81.78,29.32 L90.34,26.54" stroke="#ffffff" stroke-width="1.7" fill="none"/>
<path d="M82.24,31.49 L91.19,30.55" stroke="#ffffff" stroke-width="1.7" fill="none"/>
<path fill-rule="evenodd" d="M48.3,38.1 L57.5,43.3 L66.9,44.6 L62.6,49.2 L66.4,55.3 L58.6,52.4 L51.6,55.2 L54.6,48 Z M58.9,46.2 a1.7,1.7 0 1 0 0.01,0 Z"/>
<path d="M85.60,37.80 L87.66,43.77 L93.97,43.88 L88.93,47.68 L90.77,53.72 L85.60,50.10 L80.43,53.72 L82.27,47.68 L77.23,43.88 L83.54,43.77 Z"/>
<path d="M57.5,61.8 L61.6,72.7 L53.4,72.7 Z"/>
<path d="M71.4,61.8 L75.5,72.7 L67.30000000000001,72.7 Z"/>
<path d="M85.0,61.8 L89.1,72.7 L80.9,72.7 Z"/>
<rect x="50.1" y="74.7" width="42.6" height="4.9"/>
<rect x="56.9" y="79.4" width="30.2" height="3.5"/>
</g>
<text x="43.01" y="95.20" font-size="6.90" font-weight="bold" fill="#ffffff" stroke="#ffffff" stroke-width="0.2" stroke-linejoin="round" textLength="57.17" lengthAdjust="spacingAndGlyphs" >QUINTANA ROO</text>
<text x="43.27" y="99.70" font-size="2.40" font-weight="bold" fill="#f0d5de" textLength="56.67" lengthAdjust="spacingAndGlyphs" >GOBIERNO DEL ESTADO 2022-2027</text>
<g transform="translate(165.7,48.5) scale(1.0)">
<clipPath id="qcL"><path clip-rule="evenodd" d="M-35,0 A35,34.7 0 1 0 35,0 A35,34.7 0 1 0 -35,0 Z M-19.3,-0.8 A19,19 0 1 1 18.7,-0.8 A19,19 0 1 1 -19.3,-0.8 Z"/></clipPath>
<clipPath id="qtL"><path d="M15.8,12.6 C19,12.6 23,12.4 25.9,12.4 C29,12.4 31.5,12.4 33.8,12.7 C36.5,13.4 38.8,14.6 40.6,16.1 C43,17.8 44.8,19.6 46.2,21.7 C48,24.3 49.4,27.2 50.2,30.2 C48.6,28.8 46.9,27.9 45.1,27.3 C43.6,26.5 42.1,25.9 40.6,25.4 C39.1,24.9 37.6,24.6 36.1,24.5 C34.2,24.4 32.3,24.6 30.5,25.1 C28.6,25.5 26.7,26.1 24.8,26.8 C22.9,27.6 21,28.6 19.2,29.6 C17.4,30.5 15.5,31.3 13.6,31.8 C10,33.2 6,34.2 2.3,34.7 L6,20 Z"/></clipPath>
<path fill-rule="evenodd" fill="#ffffff" d="M-35,0 A35,34.7 0 1 0 35,0 A35,34.7 0 1 0 -35,0 Z M-19.3,-0.8 A19,19 0 1 1 18.7,-0.8 A19,19 0 1 1 -19.3,-0.8 Z"/>
<g clip-path="url(#qcL)" fill="none" stroke="#981744" stroke-width="1.05" stroke-linecap="round" stroke-linejoin="round">
<path d="M12,10.6 C20,10.2 28,10 38,11.4" stroke="#8d1546" stroke-width="3.2" stroke-linecap="butt"/>
<path d="M14,14 L40,14 L40,36 L20,36 Z" fill="#8d1546" stroke="none"/>
<circle cx="-25.3" cy="-16.8" r="2.1" fill="#981744" stroke="none"/>
<circle cx="-25.3" cy="-16.8" r="3.9"/>
<path d="M-29.6,-20.3 Q-22,-25 -16.6,-19.6 Q-15,-16.5 -15.8,-13.2"/>
<path d="M-30.6,-10.9 L-24,-9.1"/>
<path d="M-33,-7.2 L-19,-3.7"/>
<path d="M-33.6,-4.4 L-19.4,-0.9"/>
<path d="M-23.7,-24.6 Q-12,-31 -1,-21.9"/>
<path d="M-20.5,-21.3 Q-11.5,-26.5 -4.2,-20.6"/>
<path d="M-26.5,-27.4 Q-12,-35.5 1.5,-26.8"/>
<path d="M-9,-27.5 L-6.5,-23.4 M-6,-29 L-3.8,-24.6"/>
<path d="M-6.4,-34 Q-5.4,-26.2 1.7,-26.4 Q9.2,-26.4 10.4,-32"/>
<circle cx="1.8" cy="-32.4" r="2.4"/>
<path d="M1.2,-32.8 a0.9,0.9 0 1 1 0.9,1"/>
<path d="M6.8,-21.4 Q8,-27.4 18.8,-28.6"/>
<path d="M12.2,-18 Q15,-22.6 19.4,-22 Q24.5,-23.4 27.2,-20.4 Q30.8,-15 28.9,-8.6 Q26,-4.4 20.6,-4.1"/>
<path d="M23,-19.4 a2,2 0 1 0 2.6,0.2 M22.2,-20.6 Q24.4,-21.8 26.4,-20.4"/>
<path d="M16.6,-12.3 L29.6,-12.3"/>
<path d="M19.8,-11.8 V-5.4 M21.5,-11.8 V-5 M23.2,-11.8 V-5.4" stroke-width="0.8"/>
<path d="M25.4,-11 Q27.4,-9.4 27.6,-7"/>
<path d="M19.5,-1 Q26,-3.4 33.6,-2"/>
<circle cx="29.6" cy="2.6" r="2.6"/>
<circle cx="23.4" cy="4.4" r="2.2"/>
<path d="M19,5.6 Q26,8.6 34,6.4"/>
<circle cx="-27.6" cy="3.6" r="5.3"/>
<path d="M-28.6,3.6 a1.9,1.9 0 1 1 1.7,1.9 a3,3 0 0 1 -3.4,-3.2"/>
<path d="M-33.8,9.6 Q-24.6,12.4 -26.2,22.6" stroke-width="1.5"/>
<path d="M-31.2,15.2 q2.6,1 1.6,4.4"/>
<path d="M-22.6,10.6 Q-19.5,16 -21.5,21.5"/>
<circle cx="-10.1" cy="22.8" r="8.1"/>
<path d="M-21.6,24.8 A11.6,11.6 0 0 1 -11.4,11.3"/>
<path d="M-15.6,23.2 Q-10,28.4 -4.4,23.2"/>
<path d="M-12.6,26.4 V29.4 M-10.4,27 V30.2 M-8.2,26.6 V29.8" stroke-width="0.8"/>
<path d="M-13.6,18.6 q1.4,-1.4 2.6,0 M-8.6,18.4 q1.4,-1.4 2.6,0"/>
<path d="M4.2,19 Q2.6,25 1.6,33"/>
<path d="M8.6,18.4 Q7.6,25 8,32.5"/>
</g>
<path fill="#ffffff" d="M15.8,12.6 C19,12.6 23,12.4 25.9,12.4 C29,12.4 31.5,12.4 33.8,12.7 C36.5,13.4 38.8,14.6 40.6,16.1 C43,17.8 44.8,19.6 46.2,21.7 C48,24.3 49.4,27.2 50.2,30.2 C48.6,28.8 46.9,27.9 45.1,27.3 C43.6,26.5 42.1,25.9 40.6,25.4 C39.1,24.9 37.6,24.6 36.1,24.5 C34.2,24.4 32.3,24.6 30.5,25.1 C28.6,25.5 26.7,26.1 24.8,26.8 C22.9,27.6 21,28.6 19.2,29.6 C17.4,30.5 15.5,31.3 13.6,31.8 C10,33.2 6,34.2 2.3,34.7 L6,20 Z"/>
<g clip-path="url(#qtL)" fill="none" stroke="#981744" stroke-width="1.05" stroke-linecap="round">
<path d="M14.4,14.6 Q9.6,20 13.2,26.2 Q17,30.4 23,27.4" stroke-width="1.2"/>
<path d="M24.8,17.2 Q27.2,20.4 25.4,23.4 Q22.6,26.2 19.2,24.2 Q17.2,22 18.6,19.6" stroke-width="1.7"/>
<path d="M33,13 V25"/>
</g>
</g>
<text transform="translate(138.27,90.70) scale(1.0,1)" font-size="3.20" font-weight="bold" fill="#f0cfd9" letter-spacing="1.153">GOBIERNO DEL ESTADO</text>
<text transform="translate(138.16,98.10) scale(1.1,1)" font-size="7.20" font-weight="bold" fill="#ffffff" letter-spacing="2.535">2022|2027</text>
<rect x="227.2" y="15" width="1.1" height="83.6" fill="#e9c3cf"/>
<text x="240.03" y="50.05" font-size="20.20" font-weight="bold" fill="#ffffff" stroke="#ffffff" stroke-width="1.3" stroke-linejoin="round" textLength="117.84" lengthAdjust="spacingAndGlyphs" >SEDETUR</text>
<text x="239.99" y="66.75" font-size="9.45" font-weight="bold" fill="#ffffff" stroke="#ffffff" stroke-width="0.5" stroke-linejoin="round" textLength="67.70" lengthAdjust="spacingAndGlyphs" >SECRETARÍA</text>
<text x="239.56" y="79.05" font-size="9.45" font-weight="bold" fill="#ffffff" stroke="#ffffff" stroke-width="0.5" stroke-linejoin="round" textLength="67.10" lengthAdjust="spacingAndGlyphs" >DE TURISMO</text>
<text x="1036.57" y="64.20" font-size="47.38" font-weight="bold" fill="#ffffff" stroke="#ffffff" stroke-width="2.6" stroke-linejoin="round" textLength="27.56" lengthAdjust="spacingAndGlyphs" >S</text>
<text x="1084.95" y="64.00" font-size="46.51" font-weight="bold" fill="#ffffff" stroke="#ffffff" stroke-width="2.6" stroke-linejoin="round" textLength="27.41" lengthAdjust="spacingAndGlyphs" >T</text>
<text x="1112.57" y="64.20" font-size="46.95" font-weight="bold" fill="#ffffff" stroke="#ffffff" stroke-width="2.6" stroke-linejoin="round" textLength="31.63" lengthAdjust="spacingAndGlyphs" >U</text>
<text x="1146.30" y="64.00" font-size="46.51" font-weight="bold" fill="#ffffff" stroke="#ffffff" stroke-width="2.6" stroke-linejoin="round" textLength="28.89" lengthAdjust="spacingAndGlyphs" >R</text>
<path fill="#ffffff" d="M1074.8,41.5 L1080.9,32 A7.25,7.25 0 1 0 1068.7,32 Z"/>
<path fill="#ffffff" d="M1069,41.2 Q1069,37.7 1071.2,37.7 L1074.8,43.7 L1078.4,37.7 Q1081.4,37.7 1081.4,41.2 V61.8 Q1081.4,65.5 1077.8,65.5 H1072.6 Q1069,65.5 1069,61.8 Z"/>
<g transform="translate(1207.1,40.8) scale(0.771)">
<clipPath id="qcR"><path clip-rule="evenodd" d="M-35,0 A35,34.7 0 1 0 35,0 A35,34.7 0 1 0 -35,0 Z M-19.3,-0.8 A19,19 0 1 1 18.7,-0.8 A19,19 0 1 1 -19.3,-0.8 Z"/></clipPath>
<clipPath id="qtR"><path d="M15.8,12.6 C19,12.6 23,12.4 25.9,12.4 C29,12.4 31.5,12.4 33.8,12.7 C36.5,13.4 38.8,14.6 40.6,16.1 C43,17.8 44.8,19.6 46.2,21.7 C48,24.3 49.4,27.2 50.2,30.2 C48.6,28.8 46.9,27.9 45.1,27.3 C43.6,26.5 42.1,25.9 40.6,25.4 C39.1,24.9 37.6,24.6 36.1,24.5 C34.2,24.4 32.3,24.6 30.5,25.1 C28.6,25.5 26.7,26.1 24.8,26.8 C22.9,27.6 21,28.6 19.2,29.6 C17.4,30.5 15.5,31.3 13.6,31.8 C10,33.2 6,34.2 2.3,34.7 L6,20 Z"/></clipPath>
<path fill-rule="evenodd" fill="#ffffff" d="M-35,0 A35,34.7 0 1 0 35,0 A35,34.7 0 1 0 -35,0 Z M-19.3,-0.8 A19,19 0 1 1 18.7,-0.8 A19,19 0 1 1 -19.3,-0.8 Z"/>
<g clip-path="url(#qcR)" fill="none" stroke="#4d1352" stroke-width="1.05" stroke-linecap="round" stroke-linejoin="round">
<path d="M12,10.6 C20,10.2 28,10 38,11.4" stroke="#4a0e4a" stroke-width="3.2" stroke-linecap="butt"/>
<path d="M14,14 L40,14 L40,36 L20,36 Z" fill="#4a0e4a" stroke="none"/>
<circle cx="-25.3" cy="-16.8" r="2.1" fill="#4d1352" stroke="none"/>
<circle cx="-25.3" cy="-16.8" r="3.9"/>
<path d="M-29.6,-20.3 Q-22,-25 -16.6,-19.6 Q-15,-16.5 -15.8,-13.2"/>
<path d="M-30.6,-10.9 L-24,-9.1"/>
<path d="M-33,-7.2 L-19,-3.7"/>
<path d="M-33.6,-4.4 L-19.4,-0.9"/>
<path d="M-23.7,-24.6 Q-12,-31 -1,-21.9"/>
<path d="M-20.5,-21.3 Q-11.5,-26.5 -4.2,-20.6"/>
<path d="M-26.5,-27.4 Q-12,-35.5 1.5,-26.8"/>
<path d="M-9,-27.5 L-6.5,-23.4 M-6,-29 L-3.8,-24.6"/>
<path d="M-6.4,-34 Q-5.4,-26.2 1.7,-26.4 Q9.2,-26.4 10.4,-32"/>
<circle cx="1.8" cy="-32.4" r="2.4"/>
<path d="M1.2,-32.8 a0.9,0.9 0 1 1 0.9,1"/>
<path d="M6.8,-21.4 Q8,-27.4 18.8,-28.6"/>
<path d="M12.2,-18 Q15,-22.6 19.4,-22 Q24.5,-23.4 27.2,-20.4 Q30.8,-15 28.9,-8.6 Q26,-4.4 20.6,-4.1"/>
<path d="M23,-19.4 a2,2 0 1 0 2.6,0.2 M22.2,-20.6 Q24.4,-21.8 26.4,-20.4"/>
<path d="M16.6,-12.3 L29.6,-12.3"/>
<path d="M19.8,-11.8 V-5.4 M21.5,-11.8 V-5 M23.2,-11.8 V-5.4" stroke-width="0.8"/>
<path d="M25.4,-11 Q27.4,-9.4 27.6,-7"/>
<path d="M19.5,-1 Q26,-3.4 33.6,-2"/>
<circle cx="29.6" cy="2.6" r="2.6"/>
<circle cx="23.4" cy="4.4" r="2.2"/>
<path d="M19,5.6 Q26,8.6 34,6.4"/>
<circle cx="-27.6" cy="3.6" r="5.3"/>
<path d="M-28.6,3.6 a1.9,1.9 0 1 1 1.7,1.9 a3,3 0 0 1 -3.4,-3.2"/>
<path d="M-33.8,9.6 Q-24.6,12.4 -26.2,22.6" stroke-width="1.5"/>
<path d="M-31.2,15.2 q2.6,1 1.6,4.4"/>
<path d="M-22.6,10.6 Q-19.5,16 -21.5,21.5"/>
<circle cx="-10.1" cy="22.8" r="8.1"/>
<path d="M-21.6,24.8 A11.6,11.6 0 0 1 -11.4,11.3"/>
<path d="M-15.6,23.2 Q-10,28.4 -4.4,23.2"/>
<path d="M-12.6,26.4 V29.4 M-10.4,27 V30.2 M-8.2,26.6 V29.8" stroke-width="0.8"/>
<path d="M-13.6,18.6 q1.4,-1.4 2.6,0 M-8.6,18.4 q1.4,-1.4 2.6,0"/>
<path d="M4.2,19 Q2.6,25 1.6,33"/>
<path d="M8.6,18.4 Q7.6,25 8,32.5"/>
</g>
<path fill="#ffffff" d="M15.8,12.6 C19,12.6 23,12.4 25.9,12.4 C29,12.4 31.5,12.4 33.8,12.7 C36.5,13.4 38.8,14.6 40.6,16.1 C43,17.8 44.8,19.6 46.2,21.7 C48,24.3 49.4,27.2 50.2,30.2 C48.6,28.8 46.9,27.9 45.1,27.3 C43.6,26.5 42.1,25.9 40.6,25.4 C39.1,24.9 37.6,24.6 36.1,24.5 C34.2,24.4 32.3,24.6 30.5,25.1 C28.6,25.5 26.7,26.1 24.8,26.8 C22.9,27.6 21,28.6 19.2,29.6 C17.4,30.5 15.5,31.3 13.6,31.8 C10,33.2 6,34.2 2.3,34.7 L6,20 Z"/>
<g clip-path="url(#qtR)" fill="none" stroke="#4d1352" stroke-width="1.05" stroke-linecap="round">
<path d="M14.4,14.6 Q9.6,20 13.2,26.2 Q17,30.4 23,27.4" stroke-width="1.2"/>
<path d="M24.8,17.2 Q27.2,20.4 25.4,23.4 Q22.6,26.2 19.2,24.2 Q17.2,22 18.6,19.6" stroke-width="1.7"/>
<path d="M33,13 V25"/>
</g>
</g>
<text x="1050.67" y="82.90" font-size="11.30" font-weight="bold" fill="#ffffff" textLength="178.51" lengthAdjust="spacingAndGlyphs" >SISTEMA DE INFORMACIÓN</text>
<text x="1041.87" y="95.60" font-size="11.30" font-weight="bold" fill="#ffffff" textLength="197.23" lengthAdjust="spacingAndGlyphs" >TURÍSTICA DE QUINTANA ROO</text>
</svg>
</body>
</html>
